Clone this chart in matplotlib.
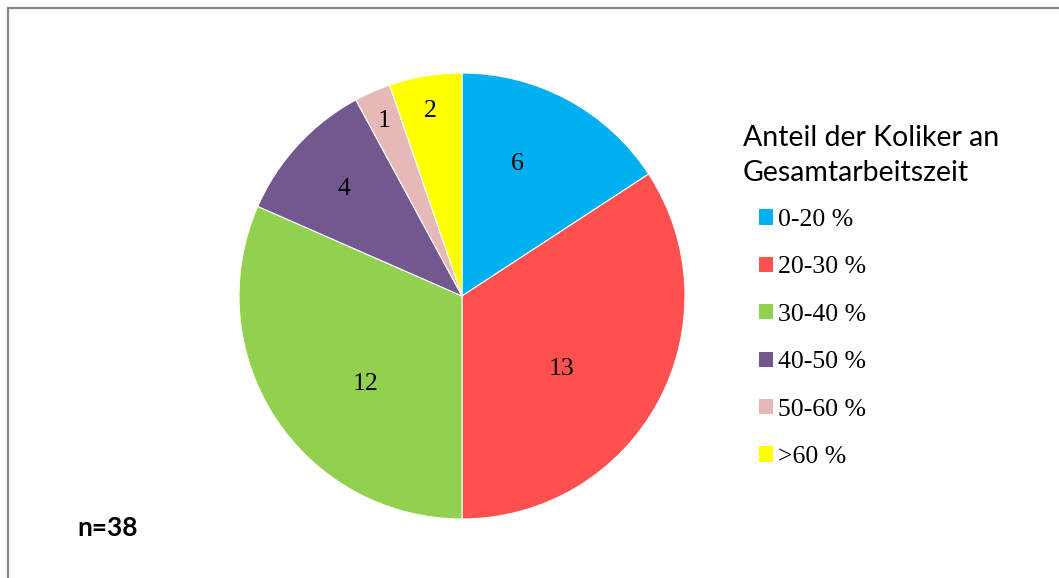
import numpy as np
import matplotlib
matplotlib.use("Agg")
import matplotlib.pyplot as plt
from matplotlib.patches import Rectangle, Patch

# Data
categories = ["0-20 %", "20-30 %", "30-40 %", "40-50 %", "50-60 %", ">60 %"]
counts = [6, 13, 12, 4, 1, 2]
colors = ["#00B0F0", "#FF5050", "#92D050", "#73578F", "#E6B9B8", "#FFFF00"]
legend_title = "Anteil der Koliker an\nGesamtarbeitszeit"
n_text = "n=%d" % sum(counts)

# label placement per slice (Excel best-fit look): radius fraction, angle shift in deg
label_radius = [0.65, 0.55, 0.58, 0.72, 0.87, 0.85]
label_shift = [6, -7, 8.5, 0, 0, 0]

W, H = 1059, 578
fig = plt.figure(figsize=(W / 100, H / 100), dpi=100)
fig.patch.set_facecolor("white")

# outer chart frame (right/bottom edges fall outside the image)
fig.add_artist(Rectangle((8 / W, -0.05), 1.2, 1 - 8.5 / H + 0.05,
                         transform=fig.transFigure, fill=False,
                         edgecolor="#888888", linewidth=1.6))

# pie axes: centre (462, 296), radius 223 px
cx, cy, r = 462, 296, 223
ax = fig.add_axes([(cx - r) / W, (H - cy - r) / H, 2 * r / W, 2 * r / H])
wedges, _ = ax.pie(counts, colors=colors, startangle=90, counterclock=False,
                   radius=1, wedgeprops=dict(edgecolor="white", linewidth=0.8))
ax.set_xlim(-1, 1)
ax.set_ylim(-1, 1)
ax.set_aspect("equal")
ax.axis("off")

# slice value labels
for w, v, rr, sh in zip(wedges, counts, label_radius, label_shift):
    ang = np.deg2rad((w.theta1 + w.theta2) / 2 + sh)
    ax.text(rr * np.cos(ang), rr * np.sin(ang) - 0.01, str(v), ha="center", va="center",
            fontsize=18.5, family="Liberation Serif", color="black")

# legend title
fig.text(743 / W, 1 - 125 / H, legend_title, ha="left", va="top",
         fontsize=20.5, family="Lato", color="black", linespacing=1.45)

# legend entries
handles = [Patch(facecolor=c, edgecolor="none") for c in colors]
leg = fig.legend(handles, categories, loc="upper left",
                 bbox_to_anchor=(759 / W, 1 - 209 / H), frameon=False,
                 prop=dict(family="Liberation Serif", size=18.5),
                 handlelength=0.54, handleheight=0.54, handletextpad=0.2,
                 labelspacing=0.99, borderpad=0, borderaxespad=0)

# sample size
fig.text(77 / W, 1 - 528 / H, n_text, ha="left", va="center",
         fontsize=19, family="Lato", fontweight="bold", color="black")

fig.savefig("out.png", dpi=100, facecolor="white")
